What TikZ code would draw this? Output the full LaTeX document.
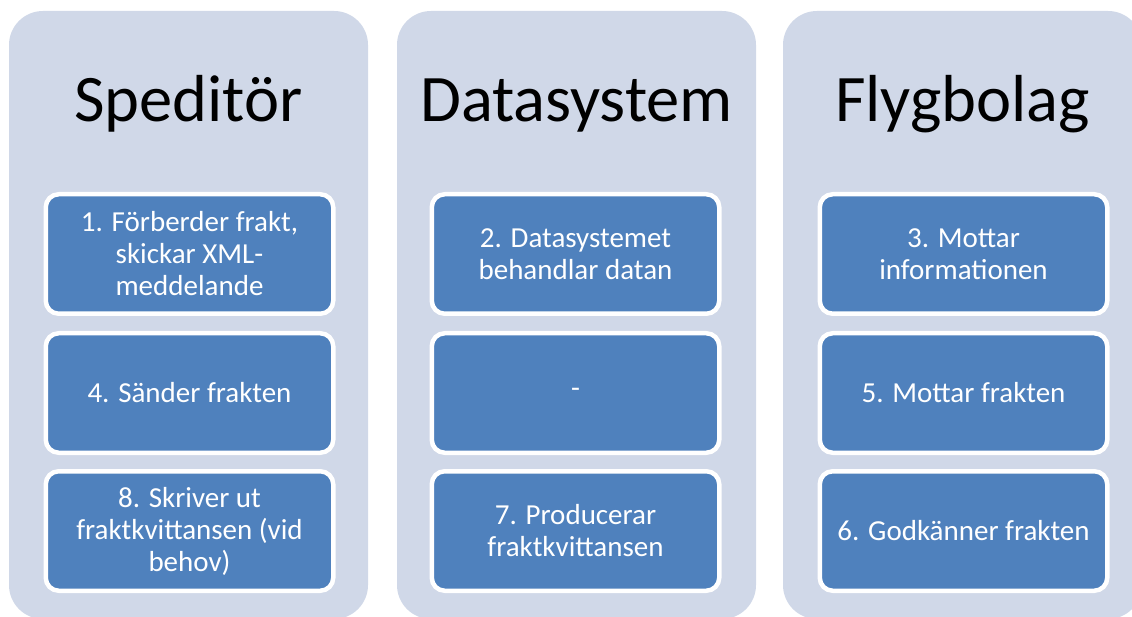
\documentclass[tikz,border=0pt]{standalone}
\usepackage{fontspec}
\setmainfont{Carlito}
\definecolor{colbg}{HTML}{D0D8E8}
\definecolor{boxblue}{HTML}{4F81BD}
\begin{document}
\begin{tikzpicture}[x=1pt,y=-1pt,
  colbox/.style={fill=colbg,rounded corners=34pt,minimum width=359pt,minimum height=608pt,inner sep=0pt},
  title/.style={anchor=base,font=\fontsize{66.5}{72}\selectfont,text=black},
  stepbox/.style={fill=boxblue,draw=white,line width=4.5pt,rounded corners=13pt,
    minimum width=287.5pt,minimum height=119.5pt,inner sep=0pt,text=white,align=center,
    font=\fontsize{29}{32}\selectfont}]
\useasboundingbox[fill=white] (0,0) rectangle (1132,617);
\begin{scope}
\clip (0,0) rectangle (1132,617);
\node[colbox] (c1) at (188.5,315) {};
\node[colbox] (c2) at (576.5,315) {};
\node[colbox] (c3) at (962.5,315) {};
\node[title] (t1) at (188.5,122) {Speditör};
\node[title] (t2) at (576.5,122) {Datasystem};
\node[title] (t3) at (962.5,122) {Flygbolag};
\node[stepbox] (a1) at (189.5,254) {1. Förberder frakt,\\skickar XML-\\meddelande};
\node[stepbox] (a2) at (189.5,393) {4. Sänder frakten};
\node[stepbox] (a3) at (189.5,531) {8. Skriver ut\\fraktkvittansen (vid\\behov)};
\node[stepbox] (b1) at (575.5,254) {2. Datasystemet\\behandlar datan};
\node[stepbox] (b2) at (575.5,393) {-};
\node[stepbox] (b3) at (575.5,531) {7. Producerar\\fraktkvittansen};
\node[stepbox] (d1) at (963.5,254) {3. Mottar\\informationen};
\node[stepbox] (d2) at (963.5,393) {5. Mottar frakten};
\node[stepbox] (d3) at (963.5,531) {6. Godkänner frakten};
\end{scope}
\end{tikzpicture}
\end{document}
